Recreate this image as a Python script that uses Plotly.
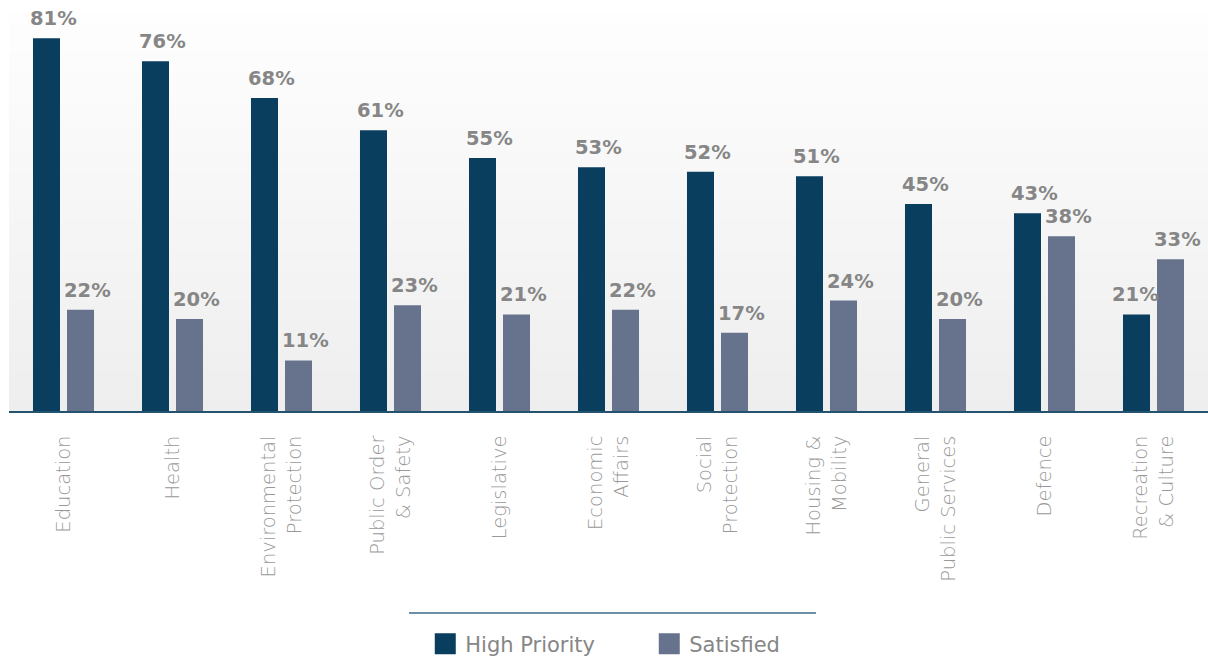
import plotly.graph_objects as go

# Spending areas and survey shares (%)
categories = [
    "Education", "Health", "Environmental<br>Protection", "Public Order<br>& Safety",
    "Legislative", "Economic<br>Affairs", "Social<br>Protection", "Housing &<br>Mobility",
    "General<br>Public Services", "Defence", "Recreation<br>& Culture",
]
high_priority = [81, 76, 68, 61, 55, 53, 52, 51, 45, 43, 21]
satisfied = [22, 20, 11, 23, 21, 22, 17, 24, 20, 38, 33]
series_names = ["High Priority", "Satisfied"]

C_HIGH = "#0a3e5e"
C_SAT = "#67738d"
LABEL_GREY = "#868686"
TICK_GREY = "#999999"
FONT = "DejaVu Sans"

fig = go.Figure()

fig.add_trace(go.Bar(
    x=categories, y=high_priority, name=series_names[0],
    marker=dict(color=C_HIGH, line_width=0), showlegend=False,
))
fig.add_trace(go.Bar(
    x=categories, y=satisfied, name=series_names[1],
    marker=dict(color=C_SAT, line_width=0), showlegend=False,
))

# Legend entries with larger square swatches
for name, col in zip(series_names, [C_HIGH, C_SAT]):
    fig.add_trace(go.Scatter(
        x=[None], y=[None], mode="markers", name=name,
        marker=dict(symbol="square", size=16, color=col, line=dict(color=col, width=6)),
        showlegend=True, hoverinfo="skip",
    ))

# Value labels above each bar
annotations = []
for cat, hp, sat in zip(categories, high_priority, satisfied):
    # shift the left label aside when the right bar is taller
    hp_shift = -18 if sat > hp else -10
    annotations.append(dict(
        x=cat, y=hp, xref="x", yref="y", text=f"{hp}%", showarrow=False,
        xanchor="center", yanchor="bottom", xshift=hp_shift, yshift=6,
        font=dict(family=FONT, size=19.5, color=LABEL_GREY, weight="bold"),
    ))
    annotations.append(dict(
        x=cat, y=sat, xref="x", yref="y", text=f"{sat}%", showarrow=False,
        xanchor="center", yanchor="bottom", xshift=24, yshift=6,
        font=dict(family=FONT, size=19.5, color=LABEL_GREY, weight="bold"),
    ))

# Soft vertical gradient behind the plot area
shapes = []
n_bands = 40
top_rgb = (254, 254, 254)
bot_rgb = (238, 238, 238)
for i in range(n_bands):
    t = (i + 0.5) / n_bands
    rgb = tuple(round(top_rgb[k] + (bot_rgb[k] - top_rgb[k]) * t) for k in range(3))
    shapes.append(dict(
        type="rect", xref="paper", yref="paper",
        x0=0, x1=1, y0=1 - (i + 1) / n_bands, y1=1 - i / n_bands + 0.002,
        fillcolor="rgb(%d,%d,%d)" % rgb, line_width=0, layer="below",
    ))

# Rule above the legend
shapes.append(dict(
    type="line", xref="paper", yref="paper",
    x0=0.3336, x1=0.673, y0=-0.5075, y1=-0.5075,
    line=dict(color="#3d6a88", width=1.5),
))

fig.update_layout(
    width=1208, height=658,
    margin=dict(l=9, r=0, t=13, b=247, autoexpand=False),
    paper_bgcolor="white", plot_bgcolor="rgba(0,0,0,0)",
    barmode="group", bargap=0.376, bargroupgap=0.206,
    font=dict(family=FONT, color=LABEL_GREY),
    shapes=shapes, annotations=annotations,
    legend=dict(
        orientation="h", x=0.534, xanchor="center",
        yref="container", y=0.021, yanchor="middle",
        font=dict(family=FONT, size=21, color=LABEL_GREY),
        bgcolor="rgba(0,0,0,0)", entrywidth=179, itemclick=False,
    ),
    xaxis=dict(
        tickangle=-90, showgrid=False, zeroline=False,
        showline=True, linecolor="#24536f", linewidth=1.5,
        ticks="", ticklabelstandoff=15,
        tickfont=dict(family=FONT, size=19.5, color=TICK_GREY, weight=200),
    ),
    yaxis=dict(
        range=[0, 86.5], visible=False, showgrid=False, zeroline=False,
    ),
)

fig.write_html("out.html")
